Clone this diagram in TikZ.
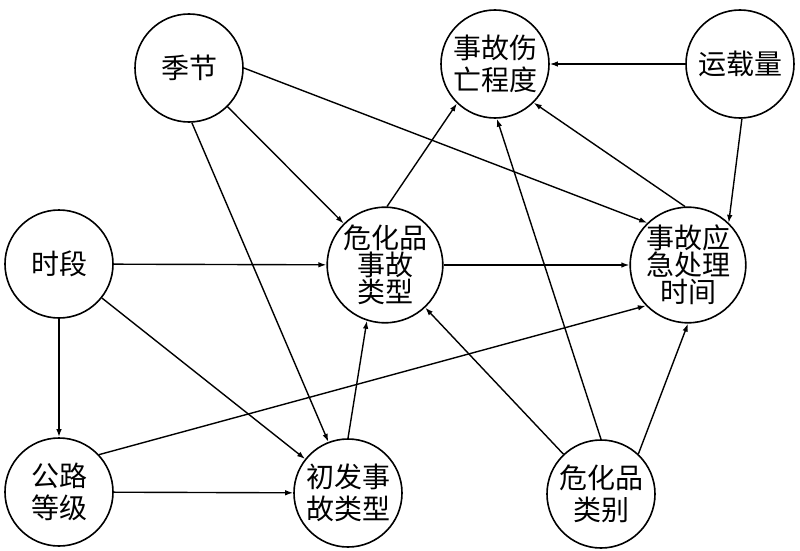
\documentclass[tikz,border=0pt]{standalone}
\usepackage{fontspec}
\newfontfamily\cjk{Noto Sans CJK SC}
\usetikzlibrary{arrows.meta}
\begin{document}
\begin{tikzpicture}[x=1pt,y=-1pt,
  circ/.style={circle,draw,line width=1.6pt,minimum size=108pt,inner sep=0pt,align=center,font=\cjk\fontsize{28}{32}\selectfont},
  tight/.style={font=\cjk\fontsize{28}{27}\selectfont},
  arr/.style={line width=1.4pt,-{Latex[length=8pt,width=5.5pt]}},
  boldarr/.style={arr,line width=2pt}]
\useasboundingbox (0,0) rectangle (800,551);
\node[circ] (jj) at (189,68) {季节};
\node[circ] (sw) at (495,64) {事故伤\\亡程度};
\node[circ] (yz) at (740,64) {运载量};
\node[circ] (sd) at (59,264) {时段};
\node[circ,tight] (wl) at (385,265) {危化品\\事故\\类型};
\node[circ,tight] (yj) at (688,265) {事故应\\急处理\\时间};
\node[circ] (gl) at (59,492) {公路\\等级};
\node[circ] (cf) at (348,493) {初发事\\故类型};
\node[circ] (lb) at (601,494) {危化品\\类别};
\draw[arr] (jj) -- (wl);
\draw[arr] (jj.273) -- (cf.111);
\draw[arr] (jj.0) -- (yj.134);
\draw[arr] (sd) -- (wl);
\draw[boldarr] (sd) -- (gl);
\draw[arr] (sd) -- (cf);
\draw[arr] (gl) -- (cf);
\draw[arr] (gl.43) -- (yj.224);
\draw[arr] (cf.90) -- (wl.252);
\draw[arr] (wl.88) -- (sw.226);
\draw[arr] (wl) -- (yj);
\draw[arr] (yz) -- (sw);
\draw[arr] (yz.272) -- (yj.46);
\draw[arr] (yj.93) -- (sw.315);
\draw[arr] (lb.90) -- (sw.272);
\draw[arr] (lb) -- (wl);
\draw[arr] (lb.47) -- (yj.270);
\end{tikzpicture}
\end{document}
